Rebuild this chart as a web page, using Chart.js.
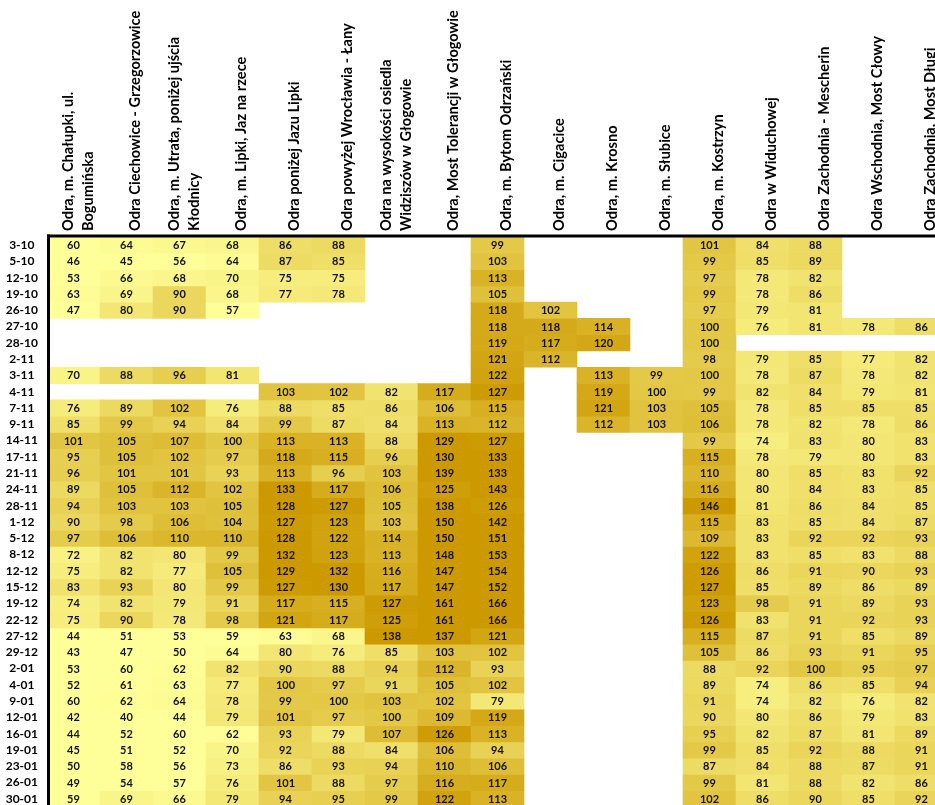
<!DOCTYPE html>
<html lang="pl">
<head>
<meta charset="utf-8">
<title>Odra</title>
<script src="https://cdn.jsdelivr.net/npm/chart.js@4.4.1/dist/chart.umd.min.js"></script>
<style>
html, body { margin: 0; padding: 0; background: #fff; overflow: hidden; }
#heatChart { position: absolute; left: 0; top: 0; }
</style>
</head>
<body>
<canvas id="heatChart" width="948" height="807"></canvas>
<script>
// =======================================
// DATA
// =======================================

// sampling dates (rows)
const dates = [
    "3-10","5-10","12-10","19-10","26-10","27-10","28-10","2-11","3-11","4-11",
    "7-11","9-11","14-11","17-11","21-11","24-11","28-11","1-12","5-12","8-12",
    "12-12","15-12","19-12","22-12","27-12","29-12","2-01","4-01","9-01","12-01",
    "16-01","19-01","23-01","26-01","30-01"
];

// measuring points (columns), two-line headers as arrays
const stations = [
    ["Odra, m. Chałupki, ul.", "Bogumińska"],
    "Odra Ciechowice - Grzegorzowice",
    ["Odra, m. Utrata, poniżej ujścia", "Kłodnicy"],
    "Odra, m. Lipki, Jaz na rzece",
    "Odra poniżej Jazu Lipki",
    "Odra powyżej Wrocławia - Łany",
    ["Odra na wysokości osiedla", "Widziszów w Głogowie"],
    "Odra, Most Tolerancji w Głogowie",
    "Odra, m. Bytom Odrzański",
    "Odra, m. Cigacice",
    "Odra, m. Krosno",
    "Odra, m. Słubice",
    "Odra, m. Kostrzyn",
    "Odra w Widuchowej",
    "Odra Zachodnia - Mescherin",
    "Odra Wschodnia, Most Cłowy",
    "Odra Zachodnia, Most Długi"
];

const _ = null; // no measurement

// one row per date, one value per station
const readings = [
    [ 60, 64, 67, 68, 86, 88,  _,  _, 99,  _,  _,  _,101, 84, 88,  _,  _],
    [ 46, 45, 56, 64, 87, 85,  _,  _,103,  _,  _,  _, 99, 85, 89,  _,  _],
    [ 53, 66, 68, 70, 75, 75,  _,  _,113,  _,  _,  _, 97, 78, 82,  _,  _],
    [ 63, 69, 90, 68, 77, 78,  _,  _,105,  _,  _,  _, 99, 78, 86,  _,  _],
    [ 47, 80, 90, 57,  _,  _,  _,  _,118,102,  _,  _, 97, 79, 81,  _,  _],
    [  _,  _,  _,  _,  _,  _,  _,  _,118,118,114,  _,100, 76, 81, 78, 86],
    [  _,  _,  _,  _,  _,  _,  _,  _,119,117,120,  _,100,  _,  _,  _,  _],
    [  _,  _,  _,  _,  _,  _,  _,  _,121,112,  _,  _, 98, 79, 85, 77, 82],
    [ 70, 88, 96, 81,  _,  _,  _,  _,122,  _,113, 99,100, 78, 87, 78, 82],
    [  _,  _,  _,  _,103,102, 82,117,127,  _,119,100, 99, 82, 84, 79, 81],
    [ 76, 89,102, 76, 88, 85, 86,106,115,  _,121,103,105, 78, 85, 85, 85],
    [ 85, 99, 94, 84, 99, 87, 84,113,112,  _,112,103,106, 78, 82, 78, 86],
    [101,105,107,100,113,113, 88,129,127,  _,  _,  _, 99, 74, 83, 80, 83],
    [ 95,105,102, 97,118,115, 96,130,133,  _,  _,  _,115, 78, 79, 80, 83],
    [ 96,101,101, 93,113, 96,103,139,133,  _,  _,  _,110, 80, 85, 83, 92],
    [ 89,105,112,102,133,117,106,125,143,  _,  _,  _,116, 80, 84, 83, 85],
    [ 94,103,103,105,128,127,105,138,126,  _,  _,  _,146, 81, 86, 84, 85],
    [ 90, 98,106,104,127,123,103,150,142,  _,  _,  _,115, 83, 85, 84, 87],
    [ 97,106,110,110,128,122,114,150,151,  _,  _,  _,109, 83, 92, 92, 93],
    [ 72, 82, 80, 99,132,123,113,148,153,  _,  _,  _,122, 83, 85, 83, 88],
    [ 75, 82, 77,105,129,132,116,147,154,  _,  _,  _,126, 86, 91, 90, 93],
    [ 83, 93, 80, 99,127,130,117,147,152,  _,  _,  _,127, 85, 89, 86, 89],
    [ 74, 82, 79, 91,117,115,127,161,166,  _,  _,  _,123, 98, 91, 89, 93],
    [ 75, 90, 78, 98,121,117,125,161,166,  _,  _,  _,126, 83, 91, 92, 93],
    [ 44, 51, 53, 59, 63, 68,138,137,121,  _,  _,  _,115, 87, 91, 85, 89],
    [ 43, 47, 50, 64, 80, 76, 85,103,102,  _,  _,  _,105, 86, 93, 91, 95],
    [ 53, 60, 62, 82, 90, 88, 94,112, 93,  _,  _,  _, 88, 92,100, 95, 97],
    [ 52, 61, 63, 77,100, 97, 91,105,102,  _,  _,  _, 89, 74, 86, 85, 94],
    [ 60, 62, 64, 78, 99,100,103,102, 79,  _,  _,  _, 91, 74, 82, 76, 82],
    [ 42, 40, 44, 79,101, 97,100,109,119,  _,  _,  _, 90, 80, 86, 79, 83],
    [ 44, 52, 60, 62, 93, 79,107,126,113,  _,  _,  _, 95, 82, 87, 81, 89],
    [ 45, 51, 52, 70, 92, 88, 84,106, 94,  _,  _,  _, 99, 85, 92, 88, 91],
    [ 50, 58, 56, 73, 86, 93, 94,110,106,  _,  _,  _, 87, 84, 88, 87, 91],
    [ 49, 54, 57, 76,101, 88, 97,116,117,  _,  _,  _, 99, 81, 88, 82, 86],
    [ 59, 69, 66, 79, 94, 95, 99,122,113,  _,  _,  _,102, 86, 90, 85, 92]
];

// =======================================
// COLOUR SCALE (pale yellow -> dark gold)
// =======================================

function heat(v) {
    let t = Math.min(Math.max((v - 60) / 68, 0), 1);
    t = Math.pow(t, 1.15);
    const r = Math.round(255 - 51 * t);
    const g = Math.round(255 - 102 * t);
    const b = Math.round(153 - 153 * t);
    return "rgb(" + r + "," + g + "," + b + ")";
}

// values inside cells + thick frame on top/left
const cellText = {
    id: "cellText",
    afterDatasetsDraw(chart) {
        const ctx = chart.ctx;
        ctx.save();
        ctx.font = "bold 11px Lato";
        ctx.fillStyle = "#111";
        ctx.textAlign = "center";
        ctx.textBaseline = "middle";
        readings.forEach((row, i) => {
            const meta = chart.getDatasetMeta(i);
            row.forEach((v, j) => {
                if (v === null) return;
                const p = meta.data[j].getCenterPoint();
                ctx.fillText(v, p.x, p.y + 0.5);
            });
        });
        const a = chart.chartArea;
        ctx.fillStyle = "#000";
        ctx.fillRect(a.left, a.top - 2.5, a.right - a.left, 3);
        ctx.fillRect(a.left, a.top - 2.5, 3, a.bottom - a.top + 2.5);
        ctx.restore();
    }
};

// =======================================
// HEATMAP (floating bars)
// =======================================

new Chart(document.getElementById("heatChart"), {
    type: "bar",
    data: {
        labels: stations,
        datasets: readings.map((row, i) => ({
            label: dates[i],
            data: row.map(v => v === null ? null : [i, i + 1]),
            backgroundColor: row.map(v => v === null ? "rgba(0,0,0,0)" : heat(v)),
            borderWidth: 0,
            grouped: false,
            barPercentage: 1,
            categoryPercentage: 1
        }))
    },
    options: {
        responsive: false,
        animation: false,
        layout: { padding: 0, autoPadding: false },
        plugins: {
            legend: { display: false },
            tooltip: { enabled: false }
        },
        scales: {
            x: {
                position: "top",
                grid: { display: false, drawTicks: false },
                border: { display: false },
                ticks: {
                    autoSkip: false,
                    minRotation: 90,
                    maxRotation: 90,
                    padding: 6,
                    labelOffset: 35,
                    color: "#000",
                    font: ctx => ({
                        family: "Lato",
                        size: 14.6,
                        weight: "bold",
                        lineHeight: (ctx.tick && Array.isArray(ctx.tick.label)) ? "20px" : "26px"
                    })
                },
                afterFit: axis => {
                    axis.height = 237;
                    axis.paddingLeft = 0;
                    axis.paddingRight = 0;
                }
            },
            y: {
                type: "linear",
                min: 0,
                max: dates.length,
                reverse: true,
                grid: { display: false, drawTicks: false },
                border: { display: false },
                afterBuildTicks: axis => {
                    axis.ticks = dates.map((d, i) => ({ value: i + 0.5 }));
                },
                ticks: {
                    autoSkip: false,
                    crossAlign: "center",
                    padding: 9,
                    color: "#000",
                    font: { family: "Lato", size: 12, weight: "bold" },
                    callback: v => dates[Math.floor(v)]
                },
                afterFit: axis => {
                    axis.width = 47;
                    axis.paddingTop = 0;
                    axis.paddingBottom = 0;
                }
            }
        }
    },
    plugins: [cellText]
});
</script>
</body>
</html>
